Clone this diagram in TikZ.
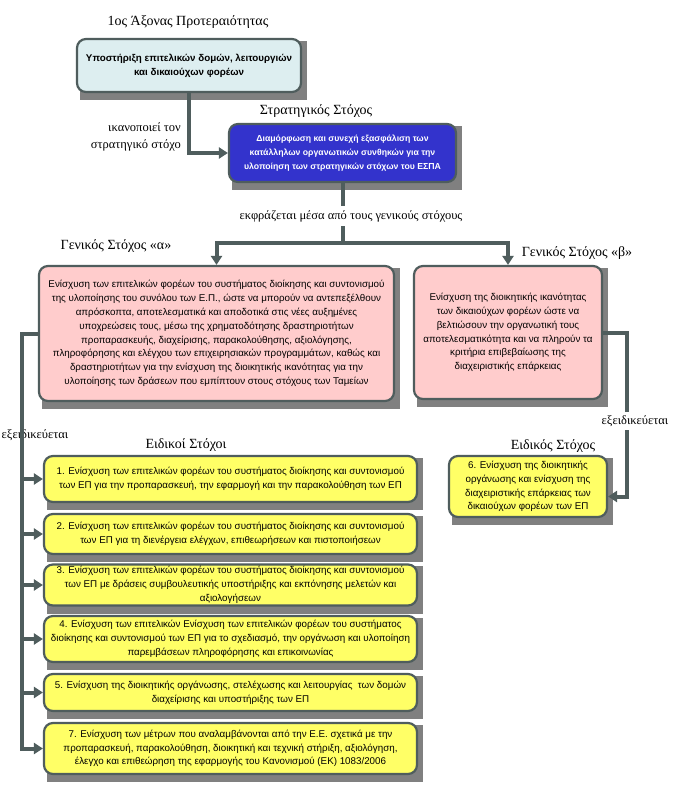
\documentclass[tikz,border=0pt]{standalone}
\usepackage{fontspec}
\setmainfont{Liberation Serif}
\newfontfamily\boxfont{Liberation Sans}
\usepackage{tikz}
\usetikzlibrary{arrows.meta, positioning, backgrounds}
\definecolor{linegray}{HTML}{4F5D5D}
\definecolor{shadowgray}{HTML}{808080}
\definecolor{axiscyan}{HTML}{DDEEF0}
\definecolor{stratblue}{HTML}{3333CC}
\definecolor{genpink}{HTML}{FFCCCC}
\definecolor{specyellow}{HTML}{FFFF66}

\begin{document}
\begin{tikzpicture}[x=1pt, y=-1pt, >={Triangle[length=9pt, width=11pt]},
    goalbox/.style={draw=linegray, line width=2.2pt, rounded corners=9pt,
      align=center, inner sep=2pt, font=\boxfont\fontsize{9.8}{13.8}\selectfont},
    boldbox/.style={goalbox, font=\boxfont\bfseries\fontsize{9.8}{13.8}\selectfont},
    specbox/.style={goalbox, fill=specyellow, minimum width=373},
    heading/.style={font=\fontsize{14}{16}\selectfont},
    linklabel/.style={font=\fontsize{12.5}{17}\selectfont, inner sep=1pt},
    conn/.style={draw=linegray, line width=4pt, ->}]
    \useasboundingbox (0,0) rectangle (672,789);

    \node[heading] (axistitle) at (188,22) {1ος Άξονας Προτεραιότητας};
    \node[boldbox, fill=axiscyan, minimum width=224, minimum height=53]
      (axis) at (189,65.5) {Υποστήριξη επιτελικών δομών, λειτουργιών\\και δικαιούχων φορέων};

    \node[heading] (strattitle) at (316,111) {Στρατηγικός Στόχος};
    \node[boldbox, fill=stratblue, text=white, minimum width=227, minimum height=58,
      font=\boxfont\bfseries\fontsize{8.7}{13.8}\selectfont]
      (strat) at (342.5,153) {Διαμόρφωση και συνεχή εξασφάλιση των\\κατάλληλων οργανωτικών συνθηκών για την\\υλοποίηση των στρατηγικών στόχων του ΕΣΠΑ};

    \node[heading] (genatitle) at (116,246) {Γενικός Στόχος «α»};
    \node[goalbox, fill=genpink, minimum width=355, minimum height=135] (gena) at (216.5,333.5)
      {Ενίσχυση των επιτελικών φορέων του συστήματος διοίκησης και συντονισμού\\
       της υλοποίησης του συνόλου των Ε.Π., ώστε να μπορούν να αντεπεξέλθουν\\
       απρόσκοπτα, αποτελεσματικά και αποδοτικά στις νέες αυξημένες\\
       υποχρεώσεις τους, μέσω της χρηματοδότησης δραστηριοτήτων\\
       προπαρασκευής, διαχείρισης, παρακολούθησης, αξιολόγησης,\\
       πληροφόρησης και ελέγχου των επιχειρησιακών προγραμμάτων, καθώς και\\
       δραστηριοτήτων για την ενίσχυση της διοικητικής ικανότητας για την\\
       υλοποίησης των δράσεων που εμπίπτουν στους στόχους των Ταμείων};

    \node[heading] (genbtitle) at (577,253) {Γενικός Στόχος «β»};
    \node[goalbox, fill=genpink, minimum width=188, minimum height=133] (genb) at (508,332.5)
      {Ενίσχυση της διοικητικής ικανότητας\\των δικαιούχων φορέων ώστε να\\
       βελτιώσουν την οργανωτική τους\\αποτελεσματικότητα και να πληρούν τα\\
       κριτήρια επιβεβαίωσης της\\διαχειριστικής επάρκειας};

    \node[heading] (spectitle) at (186,445) {Ειδικοί Στόχοι};
    \node[specbox, minimum height=46] (spec1) at (230.5,479)
      {1. Ενίσχυση των επιτελικών φορέων του συστήματος διοίκησης και συντονισμού\\των ΕΠ για την προπαρασκευή, την εφαρμογή και την παρακολούθηση των ΕΠ};
    \node[specbox, minimum height=40] (spec2) at (230.5,534)
      {2. Ενίσχυση των επιτελικών φορέων του συστήματος διοίκησης και συντονισμού\\των ΕΠ για τη διενέργεια ελέγχων, επιθεωρήσεων και πιστοποιήσεων};
    \node[specbox, minimum height=38] (spec3) at (230.5,585)
      {3. Ενίσχυση των επιτελικών φορέων του συστήματος διοίκησης και συντονισμού\\των ΕΠ με δράσεις συμβουλευτικής υποστήριξης και εκπόνησης μελετών και\\αξιολογήσεων};
    \node[specbox, minimum height=46] (spec4) at (230.5,639)
      {4. Ενίσχυση των επιτελικών Ενίσχυση των επιτελικών φορέων του συστήματος\\διοίκησης και συντονισμού των ΕΠ για το σχεδιασμό, την οργάνωση και υλοποίηση\\παρεμβάσεων πληροφόρησης και επικοινωνίας};
    \node[specbox, minimum height=37] (spec5) at (230.5,692.5)
      {5. Ενίσχυση της διοικητικής οργάνωσης, στελέχωσης και λειτουργίας~ των δομών\\διαχείρισης και υποστήριξης των ΕΠ};
    \node[specbox, minimum height=51] (spec7) at (230.5,748.5)
      {7. Ενίσχυση των μέτρων που αναλαμβάνονται από την Ε.Ε. σχετικά με την\\προπαρασκευή, παρακολούθηση, διοικητική και τεχνική στήριξη, αξιολόγηση,\\έλεγχο και επιθεώρηση της εφαρμογής του Κανονισμού (ΕΚ) 1083/2006};

    \node[heading] (spec6title) at (553,446) {Ειδικός Στόχος};
    \node[goalbox, fill=specyellow, minimum width=158, minimum height=61] (spec6) at (528,486.5)
      {6. Ενίσχυση της διοικητικής\\οργάνωσης και ενίσχυση της\\διαχειριστικής επάρκειας των\\δικαιούχων φορέων των ΕΠ};

    \node[linklabel, align=right, anchor=east] (satisfies) at (182,137) {ικανοποιεί τον\\στρατηγικό στόχο};
    \node[linklabel] (specleft) at (35,435) {εξειδικεύεται};

    \begin{scope}[on background layer]
      \fill[white] (0,0) rectangle (672,789);
      \foreach \n in {axis,strat,gena,genb,spec6,spec1,spec2,spec3,spec4,spec5,spec7}
        \fill[shadowgray] ([shift={(4pt,-3pt)}]\n.north west) rectangle ([shift={(5pt,-7pt)}]\n.south east);
    \end{scope}

    \coordinate (split) at (342.5,243);
    \coordinate (spine) at (22,0);
    \draw[conn] (axis.south) |- (strat.west);
    \draw[conn, -] (strat.south) -- (split);
    \draw[conn] (split) -| (gena.north);
    \draw[conn] (split) -| (genb.north);
    \draw[conn] (gena.west) -- (spine |- gena.west) |- (spec7.west);
    \foreach \n in {spec1,spec2,spec3,spec4,spec5}
      \draw[conn] (spine |- \n.west) -- (\n.west);
    \draw[conn] (genb.east) -- ++(24,0) |- ([yshift=-10pt]spec6.east);

    \node[linklabel, fill=white, inner sep=4pt] (expresses) at (351,216) {εκφράζεται μέσα από τους γενικούς στόχους};
    \node[linklabel, fill=white, inner sep=3pt] (specright) at (635,421) {εξειδικεύεται};
  \end{tikzpicture}
\end{document}
